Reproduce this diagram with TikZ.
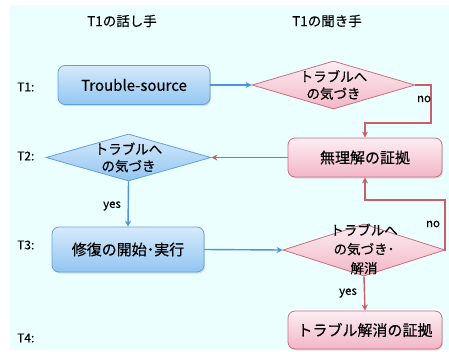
\documentclass[tikz,border=0pt]{standalone}
\usepackage{fontspec}
\setmainfont{Noto Sans CJK JP}[FakeBold=0.35]
\usetikzlibrary{arrows.meta,shapes.geometric,shadows}
\definecolor{bgc}{RGB}{236,255,255}
\definecolor{btop}{RGB}{214,234,251}
\definecolor{bbot}{RGB}{146,198,242}
\definecolor{bdraw}{RGB}{100,160,220}
\definecolor{ptop}{RGB}{253,238,243}
\definecolor{pbot}{RGB}{242,182,200}
\definecolor{pdraw}{RGB}{205,110,125}
\definecolor{barrow}{RGB}{80,145,225}
\definecolor{rarrow}{RGB}{200,95,105}
\tikzset{
  bluebox/.style={rectangle, rounded corners=7pt, draw=bdraw, line width=0.8pt, top color=btop, bottom color=bbot, inner sep=0pt, drop shadow={opacity=0.25, shadow xshift=1pt, shadow yshift=-1.5pt}},
  pinkbox/.style={rectangle, rounded corners=7pt, draw=pdraw, line width=0.8pt, top color=ptop, bottom color=pbot, inner sep=0pt, drop shadow={opacity=0.25, shadow xshift=1pt, shadow yshift=-1.5pt}},
  bluediam/.style={diamond, draw=bdraw, line width=0.8pt, top color=btop, bottom color=bbot, inner sep=0pt},
  pinkdiam/.style={diamond, draw=pdraw, line width=0.8pt, top color=ptop, bottom color=pbot, inner sep=0pt},
  boxtext/.style={font=\fontsize{15}{17}\selectfont},
  diamtext/.style={font=\fontsize{13.5}{17}\selectfont, align=center, inner sep=0pt},
  diamtextb/.style={font=\fontsize{13.5}{19}\selectfont, align=center, inner sep=0pt},
  rowlabel/.style={anchor=west, font=\fontsize{12}{14}\selectfont, inner sep=0pt},
  headlabel/.style={font=\fontsize{13.5}{16}\selectfont, inner sep=0pt},
  small/.style={font=\fontsize{11.5}{13}\selectfont, inner sep=0pt},
  barr/.style={draw=barrow, line width=1.4pt, -{Stealth[length=6pt,width=6pt]}},
  rarr/.style={draw=rarrow, line width=1.4pt, -{Stealth[length=6pt,width=6pt]}},
}
\begin{document}
\begin{tikzpicture}[x=1pt,y=-1pt]
\useasboundingbox (0,0) rectangle (449,351);
\fill[bgc] (10,5) rectangle (449,350);
% headers
\node[headlabel] (h1) at (122,21) {T1の話し手};
\node[headlabel] (h2) at (327,21) {T1の聞き手};
% row labels
\node[rowlabel] (t1) at (17,87) {T1:};
\node[rowlabel] (t2) at (17,156) {T2:};
\node[rowlabel] (t3) at (17,245) {T3:};
\node[rowlabel] (t4) at (17,338) {T4:};
% boxes
\node[bluebox, minimum width=152pt, minimum height=39pt] (b1) at (134,85) {};
\node[boxtext] (b1t) at (b1.center) {Trouble-source};
\node[pinkbox, minimum width=154pt, minimum height=39pt] (b2) at (365,157.5) {};
\node[boxtext] (b2t) at (b2.center) {無理解の証拠};
\node[bluebox, minimum width=152pt, minimum height=45pt] (b3) at (128,249.5) {};
\node[boxtext] (b3t) at (b3.center) {修復の開始･実行};
\node[pinkbox, minimum width=154pt, minimum height=38pt] (b4) at (365,330) {};
\node[boxtext] (b4t) at (b4.center) {トラブル解消の証拠};
% diamonds
\node[pinkdiam, minimum width=163pt, minimum height=48pt] (d1) at (333.5,85) {};
\node[diamtext] (d1t) at (d1.center) {トラブルへ\\の気づき};
\node[bluediam, minimum width=165pt, minimum height=47pt] (d2) at (128.5,157.5) {};
\node[diamtext] (d2t) at (d2.center) {トラブルへ\\の気づき};
\node[pinkdiam, minimum width=162pt, minimum height=52pt] (d3) at (364,250) {};
\node[diamtextb] (d3t) at ([yshift=1pt]d3.center) {トラブルへ\\の気づき･\\解消};
% connectors
\coordinate (c1) at (431,123);
\coordinate (c2) at (445,200);
\draw[barr] (b1.east) -- (d1.west);
\draw[rarr] (d1.east) -| (c1) -| (b2.north);
\draw[rarr] (b2.west) -- (d2.east);
\draw[barr] (d2.south) -- (b3.north);
\draw[barr] (b3.east) -- (d3.west);
\draw[rarr] (d3.east) -| (c2) -| (b2.south);
\draw[rarr] (d3.south) -- (b4.north);
% labels
\node[small] (no1) at (424,99) {no};
\node[small] (yes1) at (112,206) {yes};
\node[small] (no2) at (433,224) {no};
\node[small] (yes2) at (348,293) {yes};
\end{tikzpicture}
\end{document}
